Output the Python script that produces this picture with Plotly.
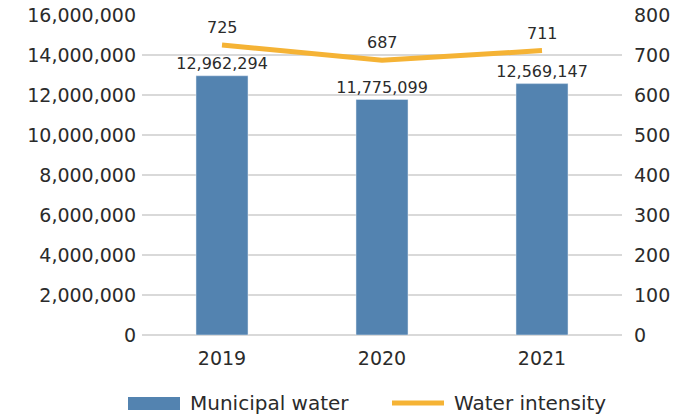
import plotly.graph_objects as go

years = ["2019", "2020", "2021"]
municipal_water = [12962294, 11775099, 12569147]
water_intensity = [725, 687, 711]

left_ticks = list(range(0, 16000001, 2000000))
right_ticks = list(range(0, 801, 100))

BAR_COLOR = "#5383b0"
LINE_COLOR = "#f5b335"
TEXT_COLOR = "#2b2b2b"
GRID_COLOR = "#d9d9d9"
FONT = "'DejaVu Sans', sans-serif"

fig = go.Figure()

fig.add_trace(go.Bar(
    x=years, y=municipal_water, name="Municipal water",
    marker_color=BAR_COLOR,
    text=[f"{v:,}" for v in municipal_water],
    textposition="outside", cliponaxis=False, constraintext="none",
    textfont=dict(size=16, color=TEXT_COLOR, family=FONT),
    showlegend=False,
))

fig.add_trace(go.Scatter(
    x=years, y=water_intensity, name="Water intensity",
    mode="lines", yaxis="y2",
    line=dict(color=LINE_COLOR, width=5),
    showlegend=False,
))

# Value labels above the intensity line (category index positions)
for i, v in enumerate(water_intensity):
    fig.add_annotation(x=i, y=v, xref="x", yref="y2", text=str(v),
                       showarrow=False, yanchor="bottom", yshift=6,
                       font=dict(size=16, color=TEXT_COLOR, family=FONT))

fig.update_layout(
    width=694, height=417,
    margin=dict(l=142, r=72, t=15, b=82, autoexpand=False),
    paper_bgcolor="white", plot_bgcolor="white",
    font=dict(family=FONT, color=TEXT_COLOR, size=19),
    bargap=0.675,
    xaxis=dict(
        type="category", range=[-0.5, 2.5], automargin=False,
        showgrid=False, showline=False, ticks="",
        ticklabelstandoff=10,
        tickfont=dict(size=19, color=TEXT_COLOR),
    ),
    yaxis=dict(
        range=[0, 16000000], tickvals=left_ticks, automargin=False,
        ticktext=[f"{v:,}" for v in left_ticks],
        showgrid=True, gridcolor=GRID_COLOR, gridwidth=1.5,
        zeroline=True, zerolinecolor=GRID_COLOR, zerolinewidth=1.5,
        showline=False, ticks="", ticklabelstandoff=5,
        tickfont=dict(size=19, color=TEXT_COLOR),
    ),
    yaxis2=dict(
        range=[0, 800], tickvals=right_ticks, automargin=False,
        overlaying="y", side="right",
        showgrid=False, zeroline=False, showline=False, ticks="",
        ticklabelstandoff=11,
        tickfont=dict(size=19, color=TEXT_COLOR),
    ),
)

# Legend drawn below the plot
fig.add_shape(type="rect", xref="paper", yref="paper",
              x0=(128 - 142) / 480, x1=(180 - 142) / 480,
              y0=-(397 - 335) / 320, y1=-(410 - 335) / 320,
              fillcolor=BAR_COLOR, line_width=0)
fig.add_annotation(xref="paper", yref="paper",
                   x=(188 - 142) / 480, y=-(403 - 335) / 320,
                   text="Municipal water", showarrow=False,
                   xanchor="left", yanchor="middle",
                   font=dict(size=20, color=TEXT_COLOR, family=FONT))
fig.add_shape(type="line", xref="paper", yref="paper",
              x0=(392 - 142) / 480, x1=(444 - 142) / 480,
              y0=-(403 - 335) / 320, y1=-(403 - 335) / 320,
              line=dict(color=LINE_COLOR, width=5))
fig.add_annotation(xref="paper", yref="paper",
                   x=(452 - 142) / 480, y=-(403 - 335) / 320,
                   text="Water intensity", showarrow=False,
                   xanchor="left", yanchor="middle",
                   font=dict(size=20, color=TEXT_COLOR, family=FONT))

fig.write_html("out.html")
